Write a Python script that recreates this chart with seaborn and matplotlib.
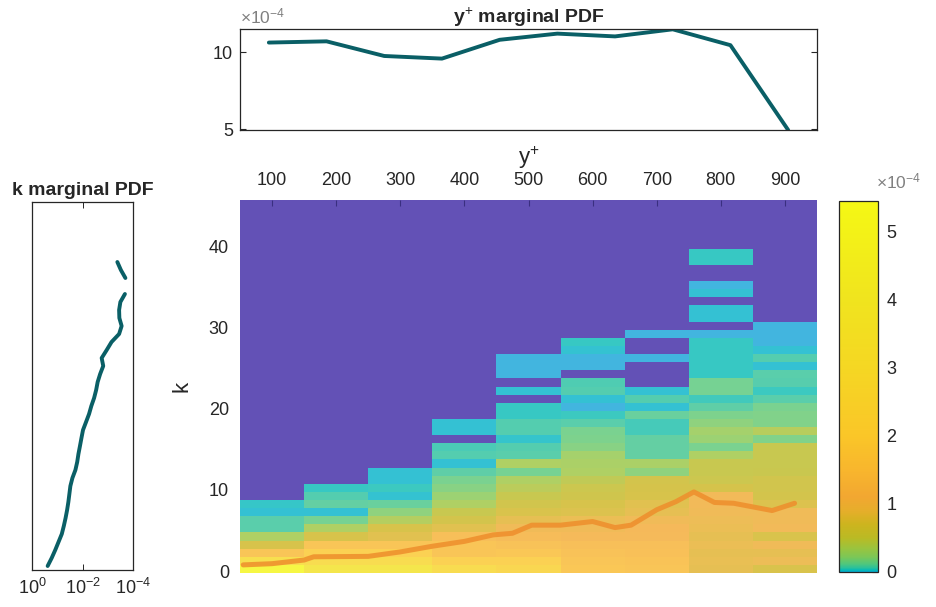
import numpy as np
import pandas as pd
import matplotlib
matplotlib.use("Agg")
import matplotlib.pyplot as plt
import seaborn as sns
from matplotlib.colors import LinearSegmentedColormap, Normalize
from matplotlib.cm import ScalarMappable
from matplotlib.ticker import LogLocator, NullFormatter

# ---------------- data ----------------
yplus_labels = [100, 200, 300, 400, 500, 600, 700, 800, 900]

# y+ marginal PDF
yplus_centers = [95, 185, 275, 365, 455, 545, 635, 725, 815, 905]
yplus_pdf = [10.62e-4, 10.70e-4, 9.75e-4, 9.58e-4, 10.80e-4, 11.20e-4,
             11.02e-4, 11.48e-4, 10.45e-4, 4.95e-4]

# k marginal PDF (nan = zero, gap in log plot)
k_centers = [0.5, 1.5, 2.5, 3.5, 4.5, 5.5, 6.5, 7.5, 8.5, 9.5, 10.5, 11.5,
             12.5, 13.5, 14.5, 15.5, 16.5, 17.5, 18.5, 19.5, 20.5, 21.5,
             22.5, 23.5, 24.5, 25.5, 26.5, 27.5, 28.5, 29.5, 30.5, 31.5,
             32.5, 33.5, 34.5, 35.5, 36.5, 37.5, 38.5]
k_pdf = [0.240, 0.166, 0.120, 0.0891, 0.0661, 0.0550, 0.0468, 0.0407,
         0.0363, 0.0331, 0.0302, 0.0251, 0.0191, 0.0162, 0.0145, 0.0126,
         0.0110, 0.00955, 0.00724, 0.00550, 0.00447, 0.00347, 0.00288,
         0.00251, 0.00200, 0.00151, 0.00174, 0.00110, 0.000708, 0.000355,
         0.000282, 0.000347, 0.000355, 0.000316, 0.000209, np.nan,
         0.000200, 0.000302, 0.000417]

# mean-k curve over y+
line_yplus = [55, 100, 150, 165, 250, 300, 350, 400, 445, 475, 505, 550,
              600, 635, 660, 700, 730, 758, 790, 820, 880, 915]
line_k = [1.0, 1.15, 1.6, 2.0, 2.05, 2.6, 3.3, 3.9, 4.7, 4.9, 5.9, 5.9,
          6.35, 5.6, 5.9, 7.8, 8.8, 10.0, 8.7, 8.6, 7.7, 8.6]

# joint PDF (units of 1e-4), listed from k = 0 upward; nan = no samples
nan = np.nan
col_100 = [5.2, 3.0, 1.5, 0.7, 0.35, 0.07, 0.07, 0.012, 0.025]
col_200 = [3.7, 2.8, 2.0, 1.5, 0.7, 0.35, 0.13, 0.012, 0.09, 0.06, 0.03]
col_300 = [3.7, 2.8, 2.0, 1.5, 0.8, 0.7, 0.38, 0.2, 0.1, 0.015, 0.035,
           0.012, 0.012]
col_400 = [2.8, 2.0, 1.5, 1.5, 1.3, 0.8, 0.65, 0.5, 0.35, 0.25, 0.18, 0.14,
           0.08, 0.012, 0.06, 0.05, nan, 0.012, 0.012]
col_500 = [2.4, 2.0, 1.6, 1.4, 1.2, 1.0, 0.85, 0.72, 0.62, 0.5, 0.42, 0.35,
           0.13, 0.35, 0.07, 0.06, 0.02, 0.06, 0.06, 0.03, 0.03, nan, 0.012,
           nan, 0.003, 0.003, 0.003]
col_600 = [1.6, 1.5, 1.4, 1.3, 1.15, 1.0, 0.9, 0.75, 0.7, 0.6, 0.55, 0.45,
           0.35, 0.33, 0.3, 0.18, 0.15, 0.14, 0.07, 0.035, 0.003, 0.012,
           0.06, 0.055, nan, 0.003, 0.003, 0.015, 0.03]
col_700 = [1.5, 1.45, 1.35, 1.3, 1.15, 1.1, 1.0, 0.85, 0.8, 0.7, 0.68, 0.65,
           0.2, 0.33, 0.09, 0.09, 0.09, 0.045, 0.045, 0.1, 0.012, 0.06, 0.012,
           nan, nan, nan, 0.003, nan, nan, 0.003]
col_800 = [0.85, 0.88, 0.85, 0.9, 0.85, 0.9, 0.95, 1.0, 1.05, 1.05, 0.68,
           0.55, 0.5, 0.5, 0.35, 0.14, 0.25, 0.3, 0.2, 0.15, 0.08, 0.04, 0.13,
           0.13, 0.03, 0.03, 0.03, 0.03, 0.03, 0.003, nan, 0.012, 0.012, nan,
           0.012, 0.003, nan, nan, 0.03, 0.03]
col_900 = [0.72, 0.95, 0.85, 1.0, 0.72, 1.05, 1.0, 1.0, 0.75, 0.65, 0.62,
           0.62, 0.52, 0.5, 0.5, 0.5, 0.16, 0.4, 0.16, 0.16, 0.14, 0.07,
           0.035, 0.065, 0.07, 0.012, 0.06, 0.012, 0.003, 0.003, 0.003]

columns = [col_100, col_200, col_300, col_400, col_500, col_600, col_700,
           col_800, col_900]
n_k = 46
grid = pd.DataFrame(
    {lab: pd.Series(c + [nan] * (n_k - len(c))) for lab, c in zip(yplus_labels, columns)}
)

# ---------------- styling ----------------
sns.set_style("white")
plt.rcParams["font.family"] = ["Liberation Sans", "DejaVu Sans"]
plt.rcParams["xtick.direction"] = "in"
plt.rcParams["ytick.direction"] = "in"
TXT = "#262626"
plt.rcParams["text.color"] = TXT
plt.rcParams["xtick.color"] = TXT
plt.rcParams["ytick.color"] = TXT
plt.rcParams["axes.labelcolor"] = TXT
plt.rcParams["mathtext.fontset"] = "custom"
plt.rcParams["mathtext.rm"] = "Liberation Sans"
plt.rcParams["mathtext.it"] = "Liberation Sans"
plt.rcParams["mathtext.bf"] = "Liberation Sans:bold"

VMAX = 5.44
nodes = [(0.0, (30, 155, 221)), (0.008, (0, 176, 205)), (0.03, (5, 186, 180)),
         (0.06, (42, 192, 155)), (0.12, (80, 199, 124)), (0.22, (124, 199, 86)),
         (0.35, (155, 196, 61)), (0.5, (186, 186, 36)), (0.7, (205, 180, 30)),
         (0.9, (230, 174, 43)), (1.1, (242, 167, 49)), (1.5, (248, 182, 45)),
         (2.0, (250, 198, 40)), (3.0, (245, 215, 35)), (4.0, (240, 228, 30)),
         (VMAX, (245, 248, 20))]
vivid = LinearSegmentedColormap.from_list(
    "vivid", [(v / VMAX, tuple(c / 255 for c in col)) for v, col in nodes], N=16384)
faded = LinearSegmentedColormap.from_list(
    "faded", [(v / VMAX, tuple(0.8 * c / 255 + 0.2 for c in col)) for v, col in nodes],
    N=16384)

W, H = 936, 607
fig = plt.figure(figsize=(W / 100, H / 100), dpi=100)


def box(x0, y0, x1, y1):
    return [x0 / W, 1 - y1 / H, (x1 - x0) / W, (y1 - y0) / H]


ax = fig.add_axes(box(240, 200, 817, 573))
ax_top = fig.add_axes(box(240, 29, 817, 130))
ax_left = fig.add_axes(box(32, 202, 133, 570))
cax = fig.add_axes(box(839, 201, 878, 572))

# ---------------- main heatmap ----------------
ax.set_facecolor("#6351B6")
sns.heatmap(grid, ax=ax, cmap=faded, vmin=0, vmax=VMAX, mask=grid.isna(),
            cbar=False, linewidths=0)
ax.set_ylim(0, n_k)
ax.set_xlim(0, len(yplus_labels))
sns.lineplot(x=np.array(line_yplus) / 100 - 0.5, y=line_k, ax=ax,
             color="#EE8E2C", alpha=0.85, lw=3.6, sort=False)
ax.xaxis.tick_top()
ax.xaxis.set_label_position("top")
ax.set_xticks(np.arange(len(yplus_labels)) + 0.5)
ax.set_xticklabels([str(v) for v in yplus_labels], fontsize=13, rotation=0)
ax.set_yticks([0, 10, 20, 30, 40])
ax.set_yticklabels(["0", "10", "20", "30", "40"], fontsize=13, rotation=0)
ax.tick_params(axis="both", length=4, width=0.8, color="#3a2f80", pad=8)
ax.set_xlabel("y$^{+}$", fontsize=16, labelpad=6)
ax.set_ylabel("k", fontsize=16, labelpad=12)
for s in ax.spines.values():
    s.set_visible(False)

# ---------------- top marginal ----------------
sns.lineplot(x=yplus_centers, y=np.array(yplus_pdf) * 1e4, ax=ax_top,
             color="#0A5F66", lw=2.8)
ax_top.set_xlim(50, 950)
ax_top.set_ylim(4.95, 11.5)
ax_top.set_yticks([5, 10])
ax_top.set_yticklabels(["5", "10"], fontsize=13)
ax_top.set_xticks([])
ax_top.tick_params(axis="y", left=True, right=True, length=4, width=0.8,
                   color=TXT, pad=5)
ax_top.set_xlabel("")
ax_top.set_ylabel("")
for s in ax_top.spines.values():
    s.set_color(TXT)
    s.set_linewidth(0.9)
ax_top.set_title("y$^{+}$ marginal PDF", fontsize=14, fontweight="bold",
                 pad=4)
ax_top.text(0.0, 1.03, r"$\times10^{-4}$", transform=ax_top.transAxes,
            fontsize=12.5, color="#808080", ha="left", va="bottom")

# ---------------- left marginal ----------------
seg = [0 if np.isfinite(p) and kk < 35.5 else (1 if np.isfinite(p) else -1)
       for kk, p in zip(k_centers, k_pdf)]
kdf = pd.DataFrame({"k": k_centers, "pdf": k_pdf, "seg": seg}).dropna()
sns.lineplot(data=kdf, x="pdf", y="k", units="seg", estimator=None, sort=False,
             ax=ax_left, color="#0A5F66", lw=2.8)
ax_left.set_xscale("log")
ax_left.set_xlim(1, 1e-4)
ax_left.set_ylim(0, n_k)
ax_left.set_xticks([1, 1e-2, 1e-4])
ax_left.set_xticklabels(["10$^{0}$", "10$^{-2}$", "10$^{-4}$"], fontsize=13)
ax_left.xaxis.set_minor_locator(LogLocator(base=10, subs=np.arange(2, 10)))
ax_left.xaxis.set_minor_formatter(NullFormatter())
ax_left.tick_params(axis="x", which="both", bottom=True, top=True, width=0.7,
                    color=TXT, pad=6)
ax_left.tick_params(axis="x", which="major", length=4)
ax_left.tick_params(axis="x", which="minor", length=2)
ax_left.set_yticks([])
ax_left.set_xlabel("")
ax_left.set_ylabel("")
for s in ax_left.spines.values():
    s.set_color(TXT)
    s.set_linewidth(0.9)
ax_left.set_title("k marginal PDF", fontsize=14, fontweight="bold", pad=5)

# ---------------- colorbar ----------------
cb = fig.colorbar(ScalarMappable(norm=Normalize(0, VMAX), cmap=vivid), cax=cax)
cb.set_ticks([0, 1, 2, 3, 4, 5])
cb.set_ticklabels(["0", "1", "2", "3", "4", "5"])
cax.tick_params(labelsize=13, length=4, width=0.8, color=TXT, direction="in",
                pad=6)
cb.outline.set_edgecolor(TXT)
cb.outline.set_linewidth(0.9)
cax.text(0.95, 1.025, r"$\times10^{-4}$", transform=cax.transAxes, fontsize=12.5,
         color="#808080", ha="left", va="bottom")

fig.savefig("out.png", dpi=100)
